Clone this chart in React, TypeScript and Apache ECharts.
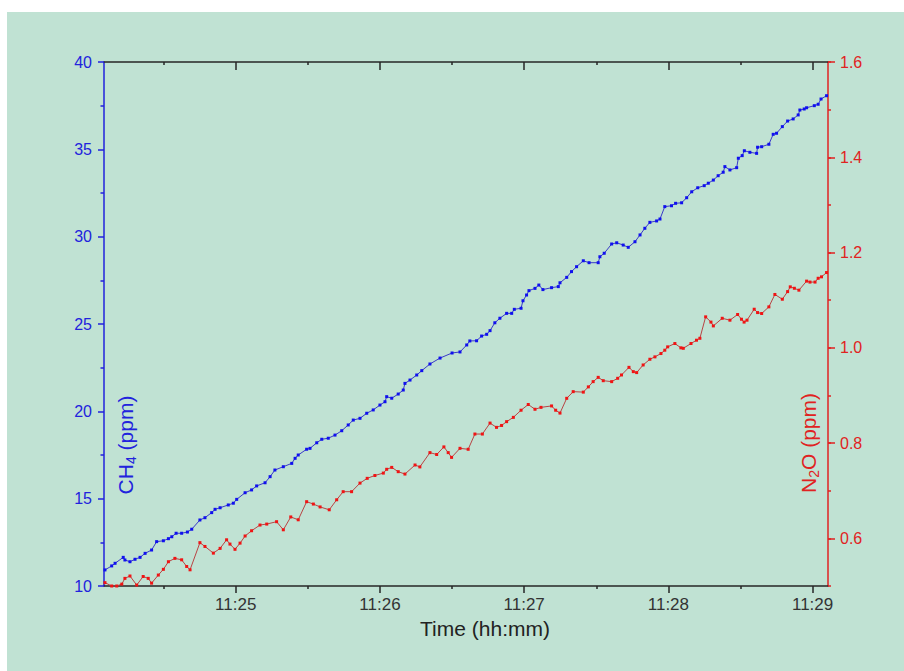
import React, { useEffect, useRef } from "react";
import * as echarts from "echarts";

// time in seconds after 11:24:00, CH4 in ppm
const ch4Data: [number, number][] = [
  [5.6, 10.92], [8.4, 11.15], [9.8, 11.3], [13.2, 11.64], [13.9, 11.49], [16.0, 11.39], [18.1, 11.53],
  [20.2, 11.64], [22.3, 11.87], [25.0, 12.06], [27.1, 12.54], [29.9, 12.59], [32.0, 12.71], [33.4, 12.82],
  [35.2, 13.02], [37.5, 13.02], [39.9, 13.09], [41.7, 13.25], [45.1, 13.78], [47.2, 13.91], [50.0, 14.2],
  [51.4, 14.39], [53.5, 14.48], [56.9, 14.64], [59.0, 14.74], [60.4, 14.96], [63.9, 15.34], [66.6, 15.5],
  [68.7, 15.73], [72.2, 15.91], [74.3, 16.26], [76.3, 16.64], [79.8, 16.83], [83.3, 17.02], [84.7, 17.31],
  [86.0, 17.5], [89.5, 17.83], [90.9, 17.88], [93.7, 18.2], [95.8, 18.4], [98.5, 18.46], [101.3, 18.64],
  [104.1, 18.89], [106.8, 19.22], [108.9, 19.5], [111.7, 19.6], [114.5, 19.89], [117.2, 20.08], [120.0, 20.36],
  [122.1, 20.55], [122.8, 20.84], [124.9, 20.75], [127.6, 20.99], [129.7, 21.22], [130.4, 21.6], [132.5, 21.79],
  [135.3, 22.08], [137.4, 22.33], [140.8, 22.71], [145.0, 23.05], [150.0, 23.34], [153.3, 23.4], [156.1, 23.8],
  [157.4, 24.03], [160.2, 24.04], [162.3, 24.31], [164.4, 24.41], [165.8, 24.62], [167.8, 25.07], [169.9, 25.33],
  [172.7, 25.61], [174.8, 25.61], [175.9, 25.84], [178.7, 25.9], [179.5, 26.33], [181.0, 26.66], [182.0, 26.91],
  [184.5, 27.04], [186.1, 27.23], [187.8, 26.97], [191.4, 27.08], [194.2, 27.14], [194.9, 27.36], [197.7, 27.67],
  [199.7, 28.0], [201.8, 28.28], [204.6, 28.62], [207.0, 28.51], [210.8, 28.51], [211.5, 28.85], [213.3, 29.05],
  [216.4, 29.58], [218.5, 29.65], [221.2, 29.52], [223.3, 29.39], [226.1, 29.71], [228.2, 30.1], [230.2, 30.48],
  [232.3, 30.82], [235.1, 30.9], [236.5, 31.01], [238.5, 31.72], [241.3, 31.77], [243.0, 31.91], [245.5, 31.94],
  [247.6, 32.23], [249.7, 32.57], [252.2, 32.8], [254.9, 32.92], [256.6, 33.06], [258.7, 33.24], [260.7, 33.49],
  [262.8, 33.69], [263.5, 34.01], [265.6, 33.82], [268.4, 33.95], [269.1, 34.49], [270.7, 34.64], [271.6, 34.92],
  [273.9, 34.83], [276.7, 34.77], [277.1, 35.12], [278.8, 35.15], [281.8, 35.29], [283.6, 35.86], [285.0, 35.92],
  [287.4, 36.3], [289.6, 36.62], [291.9, 36.74], [294.0, 36.97], [294.7, 37.25], [296.5, 37.31], [297.5, 37.38],
  [300.7, 37.5], [302.3, 37.58], [303.5, 37.88], [305.8, 38.07],
];

// time in seconds after 11:24:00, N2O in ppm
const n2oData: [number, number][] = [
  [5.6, 0.507], [8.4, 0.5], [10.5, 0.5], [12.6, 0.504], [13.9, 0.516], [16.0, 0.521], [18.8, 0.502],
  [21.5, 0.52], [23.6, 0.516], [25.0, 0.506], [27.8, 0.523], [29.9, 0.535], [32.0, 0.551], [34.7, 0.558],
  [37.5, 0.555], [39.6, 0.541], [41.0, 0.534], [45.1, 0.591], [47.2, 0.583], [50.7, 0.569], [53.5, 0.579],
  [56.2, 0.597], [57.6, 0.588], [59.7, 0.577], [61.8, 0.59], [63.9, 0.605], [66.6, 0.616], [70.1, 0.628],
  [72.9, 0.63], [77.0, 0.635], [79.8, 0.618], [82.9, 0.645], [86.0, 0.639], [89.5, 0.677], [92.3, 0.672],
  [95.1, 0.666], [98.9, 0.66], [102.0, 0.681], [104.7, 0.698], [108.2, 0.698], [111.7, 0.716], [114.7, 0.726],
  [117.9, 0.732], [121.4, 0.737], [122.8, 0.745], [124.9, 0.749], [127.6, 0.74], [130.4, 0.735], [134.6, 0.754],
  [136.6, 0.75], [140.8, 0.78], [143.6, 0.776], [146.6, 0.792], [148.4, 0.78], [149.8, 0.77], [153.3, 0.789],
  [156.7, 0.787], [159.5, 0.819], [162.6, 0.819], [165.8, 0.842], [168.5, 0.833], [170.6, 0.837], [172.7, 0.845],
  [175.5, 0.854], [178.7, 0.869], [181.7, 0.881], [184.5, 0.871], [187.0, 0.875], [191.4, 0.878], [193.1, 0.869],
  [194.9, 0.863], [197.7, 0.894], [200.4, 0.908], [204.6, 0.907], [206.7, 0.918], [208.7, 0.929], [210.8, 0.938],
  [212.9, 0.931], [216.4, 0.929], [218.9, 0.936], [220.5, 0.943], [223.6, 0.959], [225.4, 0.95], [226.8, 0.948],
  [229.5, 0.964], [232.3, 0.976], [234.4, 0.981], [236.9, 0.988], [238.5, 0.995], [239.7, 1.002], [242.7, 1.009],
  [245.2, 1.0], [246.2, 0.999], [249.4, 1.009], [251.7, 1.016], [253.1, 1.02], [255.5, 1.065], [257.7, 1.054],
  [258.7, 1.046], [262.4, 1.062], [265.6, 1.058], [268.8, 1.07], [270.4, 1.06], [271.5, 1.054], [272.7, 1.058],
  [275.7, 1.081], [277.1, 1.074], [278.8, 1.072], [281.8, 1.086], [284.3, 1.112], [287.4, 1.102], [289.6, 1.118],
  [290.7, 1.128], [292.4, 1.125], [294.3, 1.121], [297.5, 1.14], [298.9, 1.138], [301.0, 1.138], [302.3, 1.146],
  [303.7, 1.149], [305.8, 1.158],
];

const timeTicks = [60, 120, 180, 240, 300];
const timeMinorTicks = [30, 90, 150, 210, 270];
const n2oLabelValues = [0.6, 0.8, 1.0, 1.2, 1.4, 1.6];

const FONT = '"Liberation Sans", Arial, sans-serif';
const BLUE = "#2222dd";
const RED = "#e02222";
const AXIS_BLACK = "#262626";

function fmtTime(v: number): string {
  const total = 24 * 60 + Math.round(v);
  const h = 11;
  const m = Math.floor(total / 60);
  return h + ":" + String(m).padStart(2, "0");
}

export default function App() {
  const ref = useRef<HTMLDivElement>(null);

  useEffect(() => {
    if (!ref.current) return;
    const chart = echarts.init(ref.current, undefined, { renderer: "svg" });
    const xMin = 5.2;
    const xMax = 306.4;
    const baseX = {
      type: "value",
      min: xMin,
      max: xMax,
      splitLine: { show: false },
    };
    chart.setOption({
      animation: false,
      backgroundColor: "#ffffff",
      grid: { left: 104, right: 76, top: 62, bottom: 85, containLabel: false },
      graphic: [
        {
          type: "rect",
          z: -10,
          silent: true,
          shape: { x: 7, y: 12, width: 897, height: 659 },
          style: { fill: "#c0e2d3" },
        },
        {
          type: "text",
          x: 485,
          y: 628,
          style: {
            text: "Time (hh:mm)",
            fontSize: 21,
            fontFamily: FONT,
            fill: "#222222",
            align: "center",
            verticalAlign: "middle",
          },
        },
        {
          type: "text",
          x: 125,
          y: 445,
          rotation: Math.PI / 2,
          style: {
            text: "{n|CH}{s|4}{n| (ppm)}",
            fill: BLUE,
            fontFamily: FONT,
            fontSize: 21,
            align: "center",
            verticalAlign: "middle",
            rich: {
              n: { fontSize: 21, lineHeight: 26, fill: BLUE, fontFamily: FONT },
              s: { fontSize: 14, lineHeight: 14, verticalAlign: "bottom", fill: BLUE, fontFamily: FONT },
            },
          },
        },
        {
          type: "text",
          x: 808,
          y: 443,
          rotation: Math.PI / 2,
          style: {
            text: "{n|N}{s|2}{n|O (ppm)}",
            fill: RED,
            fontFamily: FONT,
            fontSize: 21,
            align: "center",
            verticalAlign: "middle",
            rich: {
              n: { fontSize: 21, lineHeight: 26, fill: RED, fontFamily: FONT },
              s: { fontSize: 14, lineHeight: 14, verticalAlign: "bottom", fill: RED, fontFamily: FONT },
            },
          },
        },
      ],
      xAxis: [
        {
          ...baseX,
          position: "bottom",
          axisLine: { show: true, lineStyle: { color: AXIS_BLACK, width: 1.5 } },
          axisTick: { show: true, length: 7, customValues: timeTicks, lineStyle: { color: AXIS_BLACK, width: 1.5 } },
          axisLabel: {
            show: true,
            customValues: timeTicks,
            formatter: (v: number) => fmtTime(v),
            fontSize: 17,
            fontFamily: FONT,
            color: "#333333",
            margin: 10,
          },
        },
        {
          ...baseX,
          position: "bottom",
          axisLine: { show: false },
          axisTick: { show: true, length: 3, customValues: timeMinorTicks, lineStyle: { color: AXIS_BLACK, width: 1.5 } },
          axisLabel: { show: false },
        },
        {
          ...baseX,
          position: "top",
          axisLine: { show: true, lineStyle: { color: AXIS_BLACK, width: 1.5 } },
          axisTick: { show: true, inside: true, length: 8, customValues: timeTicks, lineStyle: { color: AXIS_BLACK, width: 1.5 } },
          axisLabel: { show: false },
        },
        {
          ...baseX,
          position: "top",
          axisLine: { show: false },
          axisTick: { show: true, inside: true, length: 3, customValues: timeMinorTicks, lineStyle: { color: AXIS_BLACK, width: 1.5 } },
          axisLabel: { show: false },
        },
      ],
      yAxis: [
        {
          type: "value",
          position: "left",
          min: 10,
          max: 40,
          interval: 5,
          splitLine: { show: false },
          axisLine: { show: true, lineStyle: { color: BLUE, width: 1.5 } },
          axisTick: { show: true, length: 6, lineStyle: { color: BLUE, width: 1.5 } },
          minorTick: { show: true, splitNumber: 2, length: 3.5, lineStyle: { color: BLUE, width: 1.5 } },
          minorSplitLine: { show: false },
          axisLabel: { color: BLUE, fontSize: 16, fontFamily: FONT, margin: 12 },
        },
        {
          type: "value",
          position: "right",
          min: 0.5,
          max: 1.6,
          interval: 0.1,
          splitLine: { show: false },
          axisLine: { show: true, lineStyle: { color: RED, width: 1.5 } },
          axisTick: { show: true, length: 3, lineStyle: { color: RED, width: 1.5 } },
          axisLabel: { show: false },
        },
        {
          type: "value",
          position: "right",
          min: 0.5,
          max: 1.6,
          splitLine: { show: false },
          axisLine: { show: false },
          axisTick: { show: true, length: 7, customValues: n2oLabelValues, lineStyle: { color: RED, width: 1.5 } },
          axisLabel: {
            show: true,
            customValues: n2oLabelValues,
            formatter: (v: number) => v.toFixed(1),
            color: RED,
            fontSize: 16,
            fontFamily: FONT,
            margin: 12,
          },
        },
      ],
      series: [
        {
          name: "CH4",
          type: "line",
          xAxisIndex: 0,
          yAxisIndex: 0,
          data: ch4Data,
          symbol: "rect",
          symbolSize: 3,
          showSymbol: true,
          itemStyle: { color: "#1010ee" },
          lineStyle: { color: "#3a3ac8", width: 1 },
          z: 3,
        },
        {
          name: "N2O",
          type: "line",
          xAxisIndex: 0,
          yAxisIndex: 1,
          data: n2oData,
          symbol: "rect",
          symbolSize: 3,
          showSymbol: true,
          itemStyle: { color: "#f01414" },
          lineStyle: { color: "#b84444", width: 1 },
          z: 3,
        },
      ],
    });
    return () => chart.dispose();
  }, []);

  return (
    <div
      ref={ref}
      style={{ position: "fixed", left: 0, top: 0, width: 904, height: 671 }}
    />
  );
}
